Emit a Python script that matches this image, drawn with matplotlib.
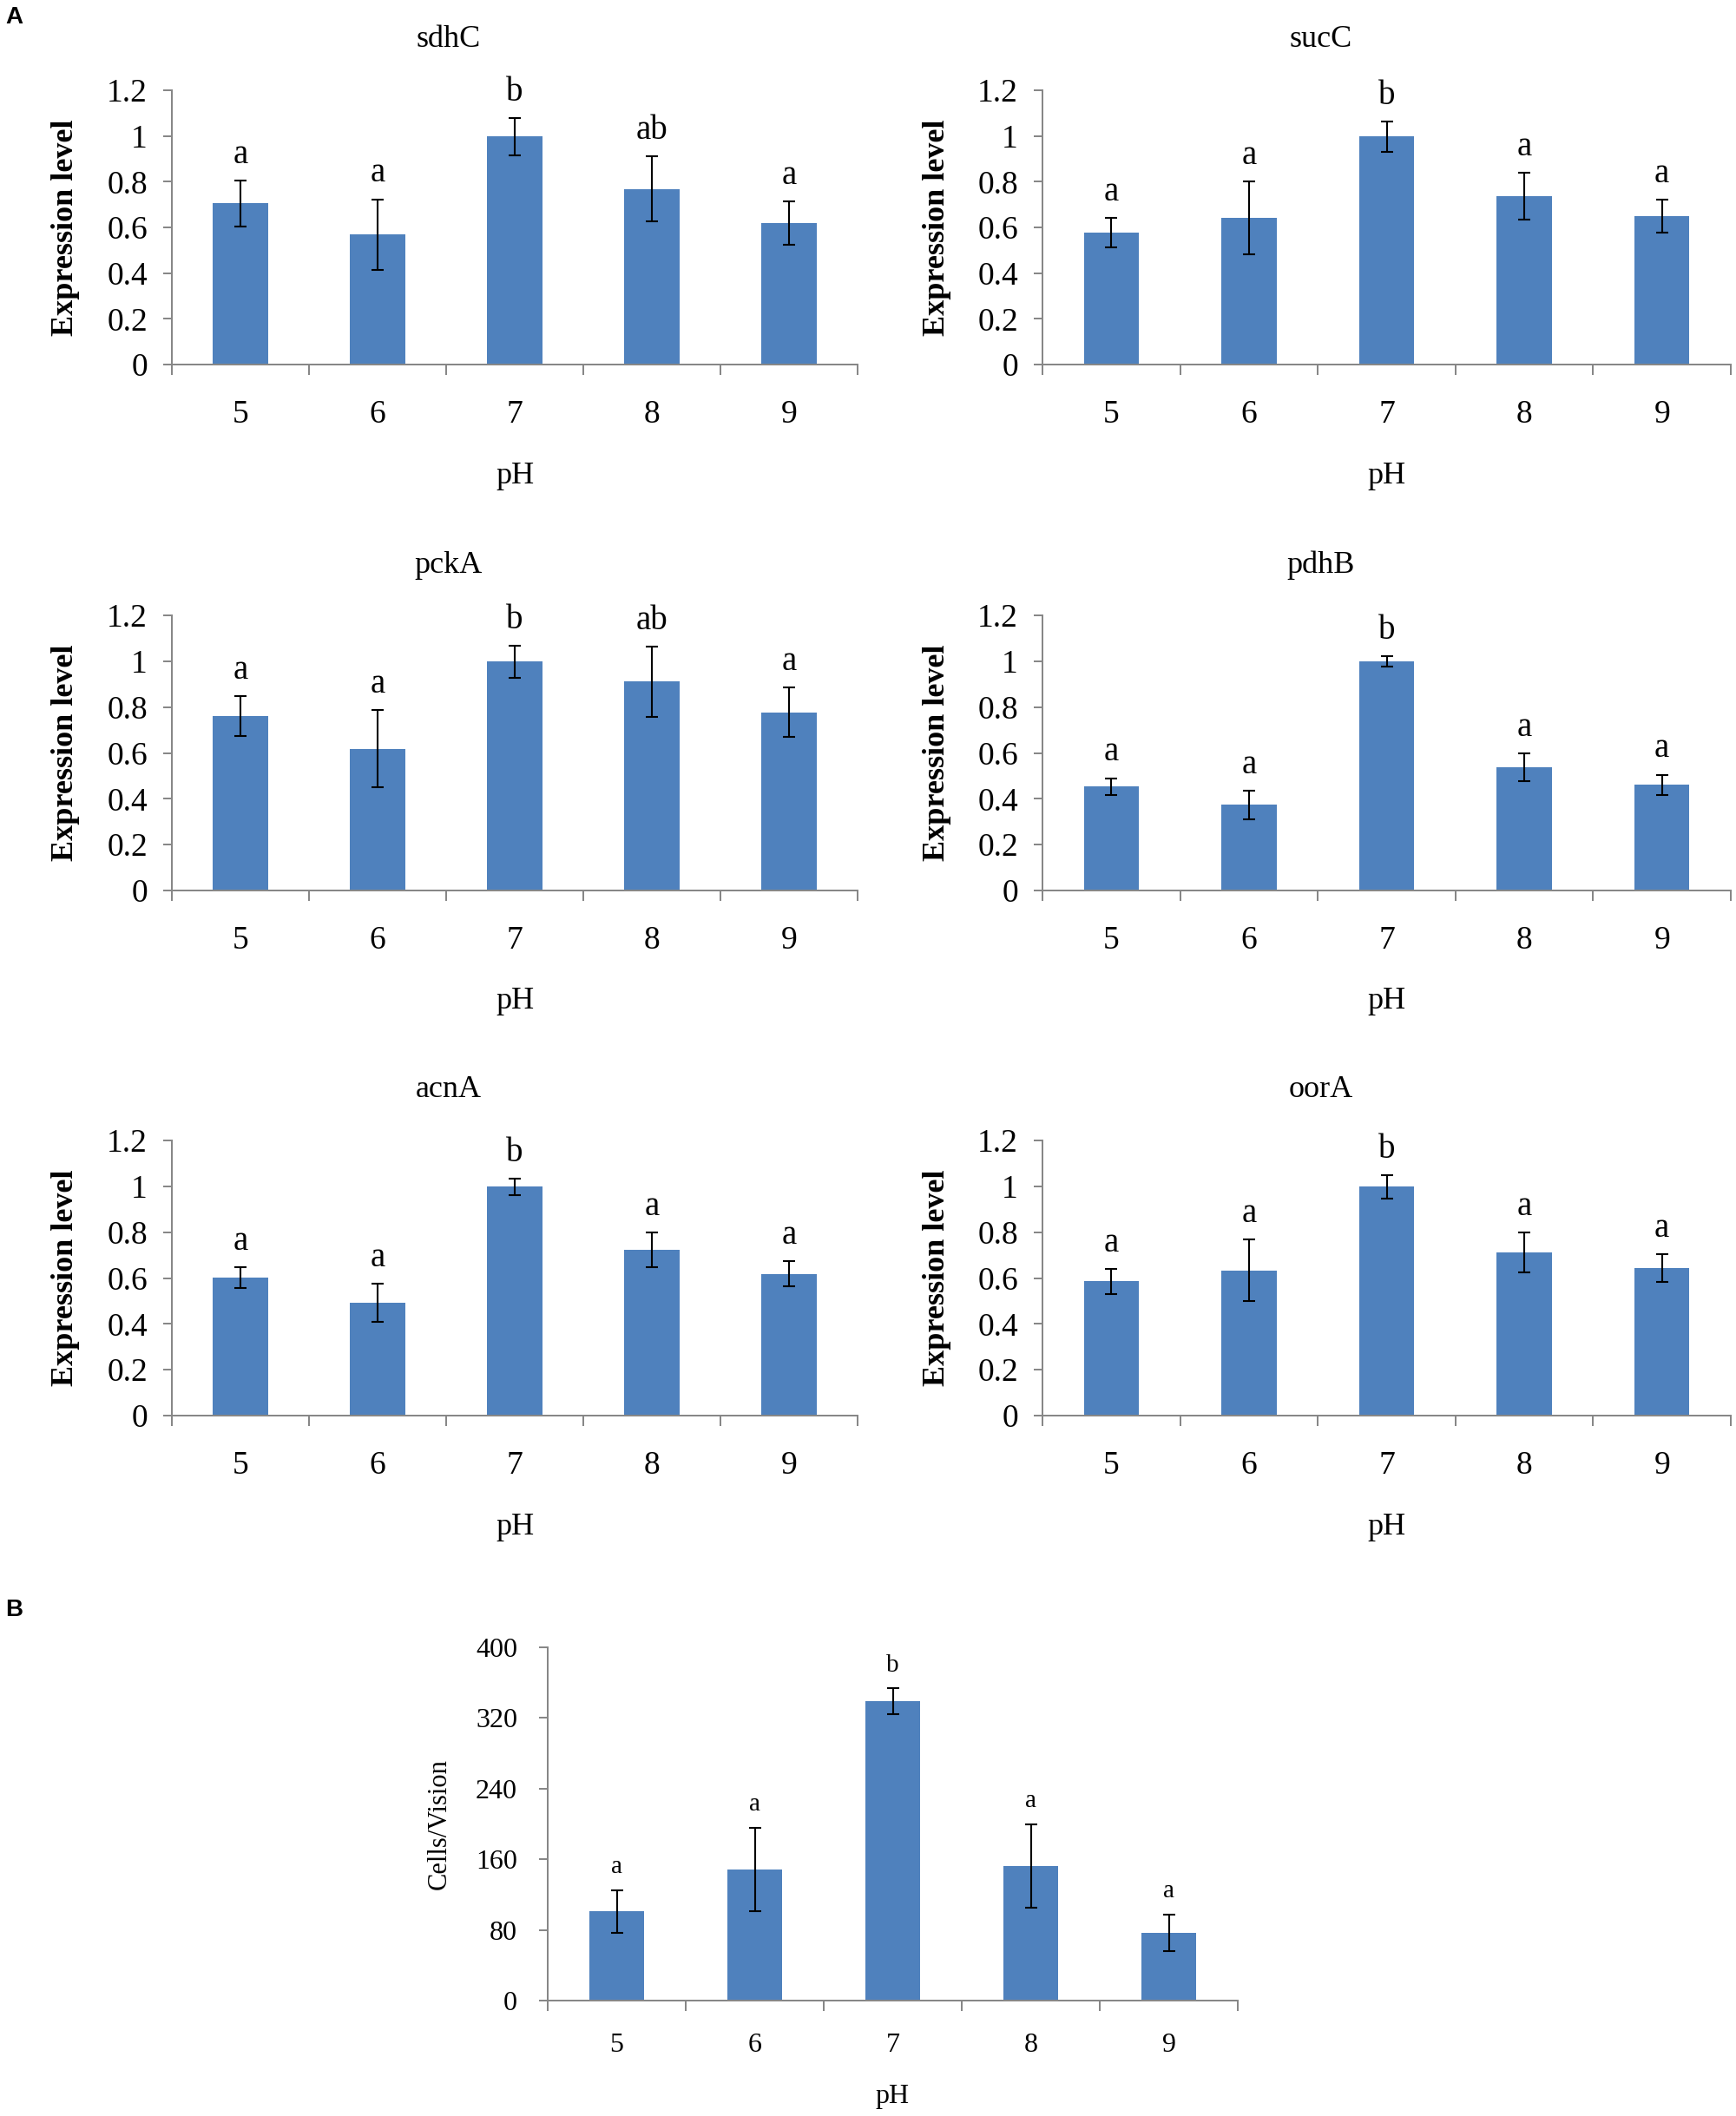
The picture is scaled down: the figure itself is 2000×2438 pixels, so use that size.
"""Expression of TCA-cycle genes and cell counts across pH levels (panels A and B)."""

import matplotlib

matplotlib.use("Agg")
import matplotlib.pyplot as plt  # noqa: E402

W, H, DPI = 2000, 2438, 100
PX = 72 / DPI  # points per pixel

BAR_COLOR = "#4F81BD"
AXIS_GRAY = "#878787"

PH_LEVELS = ["5", "6", "7", "8", "9"]

SDHC_MEAN = [0.705, 0.569, 0.997, 0.768, 0.618]
SDHC_ERR = [0.100, 0.154, 0.080, 0.142, 0.095]
SDHC_LETTERS = ["a", "a", "b", "ab", "a"]

SUCC_MEAN = [0.578, 0.641, 0.997, 0.736, 0.649]
SUCC_ERR = [0.065, 0.160, 0.065, 0.102, 0.072]
SUCC_LETTERS = ["a", "a", "b", "a", "a"]

PCKA_MEAN = [0.761, 0.618, 0.998, 0.911, 0.777]
PCKA_ERR = [0.087, 0.168, 0.070, 0.153, 0.107]
PCKA_LETTERS = ["a", "a", "b", "ab", "a"]

PDHB_MEAN = [0.453, 0.373, 0.998, 0.538, 0.460]
PDHB_ERR = [0.037, 0.062, 0.023, 0.061, 0.045]
PDHB_LETTERS = ["a", "a", "b", "a", "a"]

ACNA_MEAN = [0.603, 0.492, 0.998, 0.722, 0.618]
ACNA_ERR = [0.045, 0.083, 0.035, 0.076, 0.055]
ACNA_LETTERS = ["a", "a", "b", "a", "a"]

OORA_MEAN = [0.586, 0.634, 0.998, 0.712, 0.643]
OORA_ERR = [0.055, 0.135, 0.052, 0.088, 0.060]
OORA_LETTERS = ["a", "a", "b", "a", "a"]

EXPR_TICKS = [0, 0.2, 0.4, 0.6, 0.8, 1.0, 1.2]

CELLS_MEAN = [100.8, 148.4, 338.8, 152.4, 76.4]
CELLS_ERR = [24.4, 47.6, 14.6, 47.0, 20.8]
CELLS_LETTERS = ["a", "a", "b", "a", "a"]
CELLS_TICKS = [0, 80, 160, 240, 320, 400]

GENE_PANELS = [
    ("sdhC", SDHC_MEAN, SDHC_ERR, SDHC_LETTERS),
    ("sucC", SUCC_MEAN, SUCC_ERR, SUCC_LETTERS),
    ("pckA", PCKA_MEAN, PCKA_ERR, PCKA_LETTERS),
    ("pdhB", PDHB_MEAN, PDHB_ERR, PDHB_LETTERS),
    ("acnA", ACNA_MEAN, ACNA_ERR, ACNA_LETTERS),
    ("oorA", OORA_MEAN, OORA_ERR, OORA_LETTERS),
]

# plot-area boxes in pixels: (left, top, right, bottom)
COLUMNS = [(198, 988), (1201, 1994)]
ROWS = [(104, 420), (709, 1026), (1314, 1631)]
PANEL_B_BOX = (631, 1898, 1426, 2305)

STYLE_A = dict(tick_size=27, label_size=26, ylabel_size=26, ylabel_weight="bold",
               letter_size=28, title_size=26, xpad=29, ypad=13,
               xlabel_offset=128, ylabel_offset=122, letter_gap=8)
STYLE_B = dict(tick_size=23, label_size=23, ylabel_size=22, ylabel_weight="normal",
               letter_size=21, title_size=23, xpad=27, ypad=18,
               xlabel_offset=111, ylabel_offset=125, letter_gap=10)

plt.rcParams["font.family"] = ["Liberation Serif", "DejaVu Serif"]


def px_rect(left, top, right, bottom):
    return [left / W, 1 - bottom / H, (right - left) / W, (bottom - top) / H]


def draw_bars(fig, box, means, errs, letters, yticks, style, ylabel, title=None):
    ax = fig.add_axes(px_rect(*box))
    x = list(range(len(PH_LEVELS)))
    ax.bar(x, means, width=0.4, color=BAR_COLOR, zorder=2)
    ax.errorbar(x, means, yerr=errs, fmt="none", ecolor="black",
                elinewidth=1.5, capsize=5, capthick=1.5, zorder=3)
    for xi, mean, err, letter in zip(x, means, errs, letters):
        ax.annotate(letter, (xi, mean + err), xytext=(0, style["letter_gap"]),
                    textcoords="offset points", ha="center", va="bottom",
                    fontsize=style["letter_size"])

    ax.set_xlim(-0.5, len(x) - 0.5)
    ax.set_ylim(yticks[0], yticks[-1])
    ax.set_xticks(x)
    ax.set_xticklabels(PH_LEVELS)
    ax.set_xticks([i - 0.5 for i in range(len(x) + 1)], minor=True)
    ax.set_yticks(yticks)
    ax.set_yticklabels([f"{v:g}" for v in yticks])
    ax.tick_params(axis="x", which="major", length=0, pad=style["xpad"],
                   labelsize=style["tick_size"])
    ax.tick_params(axis="x", which="minor", length=12 * PX, width=2 * PX,
                   color=AXIS_GRAY, direction="out")
    ax.tick_params(axis="y", length=10 * PX, width=2 * PX, color=AXIS_GRAY,
                   direction="out", pad=style["ypad"], labelsize=style["tick_size"])
    for side in ("top", "right"):
        ax.spines[side].set_visible(False)
    for side in ("left", "bottom"):
        ax.spines[side].set_color(AXIS_GRAY)
        ax.spines[side].set_linewidth(2 * PX)

    ax.annotate("pH", (0.5, 0), xycoords="axes fraction",
                xytext=(0, -style["xlabel_offset"] * PX), textcoords="offset points",
                ha="center", va="center", fontsize=style["label_size"])
    ax.annotate(ylabel, (0, 0.5), xycoords="axes fraction",
                xytext=(-style["ylabel_offset"] * PX, 0), textcoords="offset points",
                ha="center", va="center", rotation=90,
                fontsize=style["ylabel_size"], fontweight=style["ylabel_weight"])
    if title:
        ax.annotate(title, (0.5, 1), xycoords="axes fraction",
                    xytext=(-76 * PX, 58 * PX), textcoords="offset points",
                    ha="center", va="center", fontsize=style["title_size"])
    return ax


def main() -> None:
    fig = plt.figure(figsize=(W / DPI, H / DPI), dpi=DPI)

    for index, (gene, means, errs, letters) in enumerate(GENE_PANELS):
        left, right = COLUMNS[index % 2]
        top, bottom = ROWS[index // 2]
        draw_bars(fig, (left, top, right, bottom), means, errs, letters,
                  EXPR_TICKS, STYLE_A, "Expression level", title=gene)

    draw_bars(fig, PANEL_B_BOX, CELLS_MEAN, CELLS_ERR, CELLS_LETTERS,
              CELLS_TICKS, STYLE_B, "Cells/Vision")

    for letter, ypix in (("A", 20), ("B", 1855)):
        fig.text(6 / W, 1 - ypix / H, letter, ha="left", va="center",
                 fontsize=20, fontweight="bold", family=["Liberation Sans", "DejaVu Sans"])

    fig.savefig("out.png", dpi=DPI)
    plt.close(fig)


if __name__ == "__main__":
    main()
